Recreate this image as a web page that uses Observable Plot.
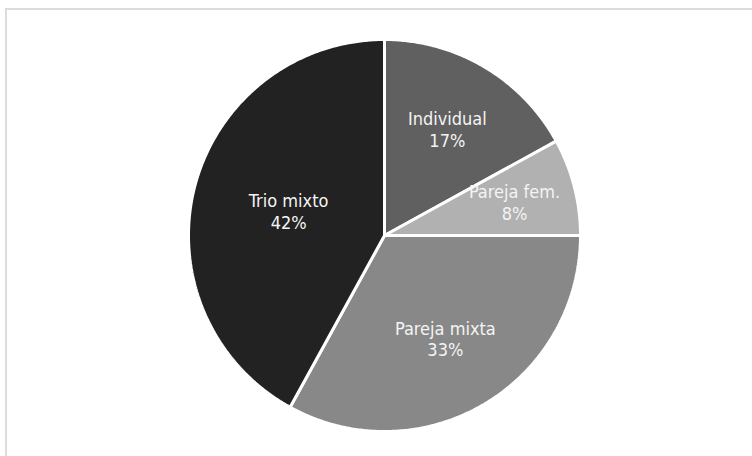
<!DOCTYPE html>
<html>
<head>
<meta charset="utf-8">
<script src="https://cdn.jsdelivr.net/npm/d3@7"></script>
<script src="https://cdn.jsdelivr.net/npm/@observablehq/plot@0.6"></script>
<style>
  html, body { margin: 0; padding: 0; background: #fff; overflow: hidden; }
  #frame { position: absolute; left: 5px; top: 8px; width: 800px; height: 500px;
           border-left: 2px solid #dcdcdc; border-top: 2px solid #dcdcdc; }
  #chart { position: absolute; left: 0; top: 0; }
</style>
</head>
<body>
<div id="frame"></div>
<div id="chart"></div>
<script>
// ---- data ----
const categories = ["Individual", "Pareja fem.", "Pareja mixta", "Trio mixto"];
const values = [17, 8, 33, 42];
const percentLabels = ["17%", "8%", "33%", "42%"];
const sliceColors = ["#606060", "#b1b1b1", "#888888", "#222222"];

// ---- layout ----
const W = 752, H = 456;
const cx = 384, cy = 235, R = 196;
const labelRadius = [0.63, 0.685, 0.61, 0.505]; // fraction of radius, per slice

const total = d3.sum(values);
const slices = [];
let acc = 0;
categories.forEach((c, i) => {
  const a0 = acc / total * 2 * Math.PI;
  acc += values[i];
  const a1 = acc / total * 2 * Math.PI;
  slices.push({category: c, a0, a1, value: values[i], label: percentLabels[i], lr: labelRadius[i]});
});

const pts = [];
for (const s of slices) {
  pts.push({category: s.category, x: 0, y: 0});
  const n = Math.max(2, Math.ceil((s.a1 - s.a0) / (Math.PI / 360)));
  for (let k = 0; k <= n; k++) {
    const a = s.a0 + (s.a1 - s.a0) * k / n;
    pts.push({category: s.category, x: Math.sin(a), y: Math.cos(a)});
  }
}

const labels = slices.map(s => {
  const m = (s.a0 + s.a1) / 2;
  return {category: s.category, x: s.lr * Math.sin(m), y: s.lr * Math.cos(m),
          text: s.category + "\n" + s.label};
});

const chart = Plot.plot({
  width: W,
  height: H,
  x: {domain: [-1, 1], range: [cx - R, cx + R], axis: null},
  y: {domain: [-1, 1], range: [cy + R, cy - R], axis: null},
  color: {domain: categories, range: sliceColors},
  style: {background: "transparent", fontFamily: "'DejaVu Sans Condensed', 'DejaVu Sans', sans-serif"},
  marks: [
    Plot.line(pts, {x: "x", y: "y", z: "category", fill: "category", stroke: "white",
                    strokeWidth: 3, curve: "linear-closed", strokeLinejoin: "miter"}),
    Plot.text(labels, {x: "x", y: "y", text: "text", fill: "#f4f4f4", fontSize: 18,
                       lineHeight: 1.2, textAnchor: "middle"})
  ]
});
document.getElementById("chart").appendChild(chart);
</script>
</body>
</html>
